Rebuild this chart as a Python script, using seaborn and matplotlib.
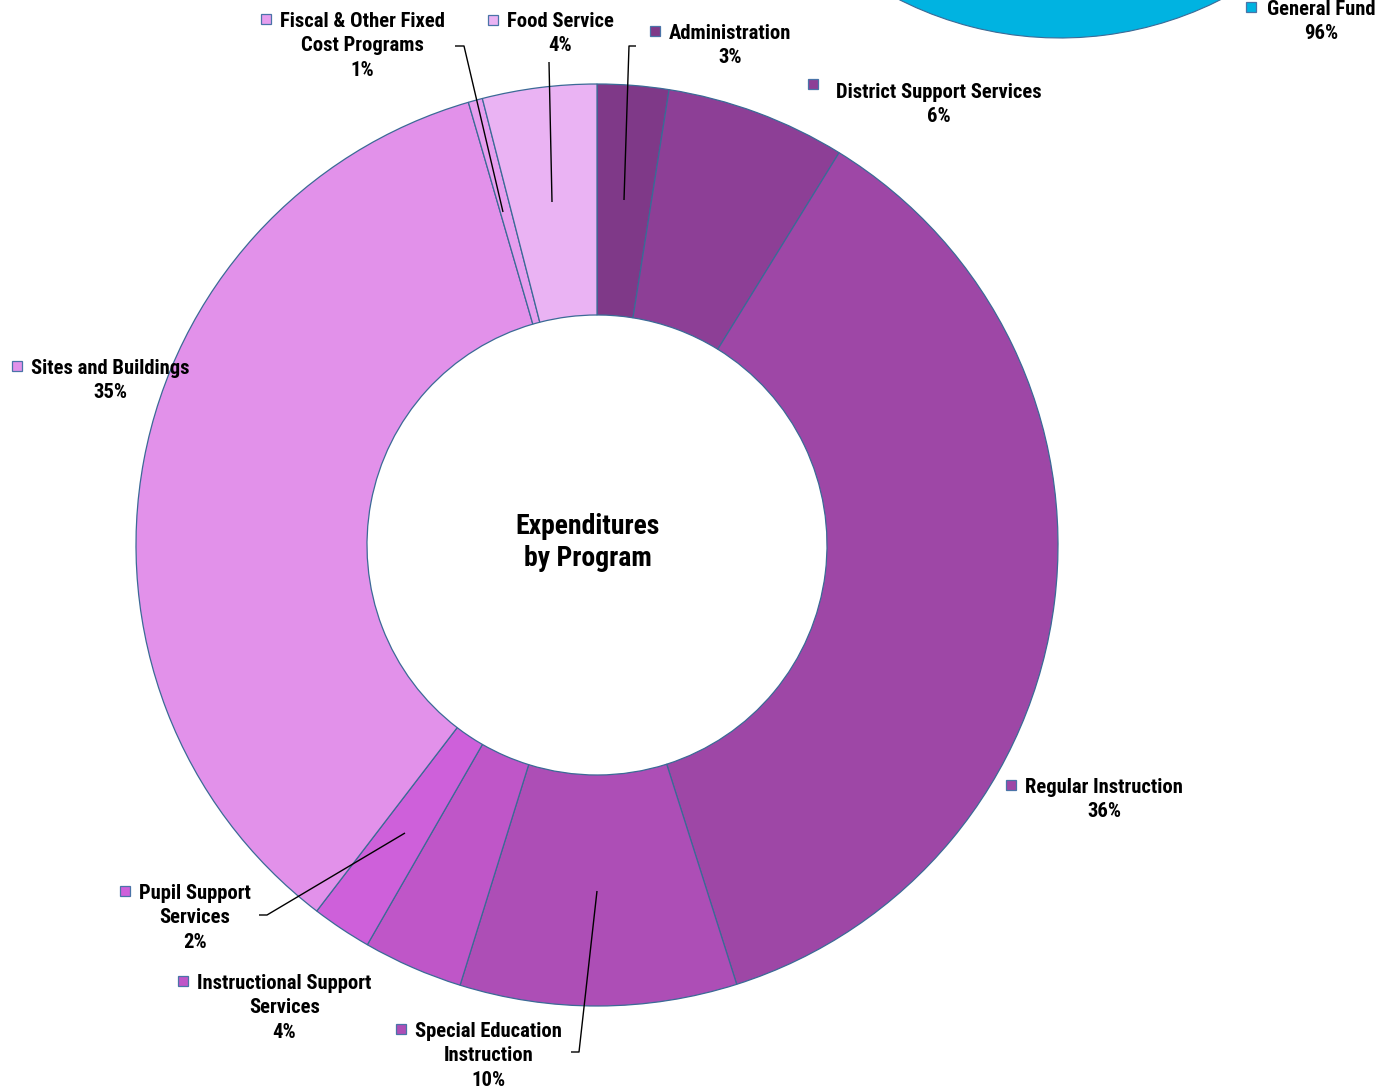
import math
import matplotlib
matplotlib.use("Agg")
import matplotlib.pyplot as plt
from matplotlib import font_manager as fm
from matplotlib.patches import Rectangle
import seaborn as sns

# ---- data -------------------------------------------------------------
programs = [
    "Administration",
    "District Support Services",
    "Regular Instruction",
    "Special Education Instruction",
    "Instructional Support Services",
    "Pupil Support Services",
    "Sites and Buildings",
    "Fiscal & Other Fixed Cost Programs",
    "Food Service",
]
program_share = [2.5, 6.3, 36.3, 9.7, 3.5, 2.1, 35.1, 0.5, 4.0]
program_colors = ["#7f3988", "#8d3f96", "#9e47a6", "#ad4eb6", "#bf56c8",
                  "#ce60da", "#e291ea", "#e69eee", "#eab3f3"]

funds = ["Other Funds", "General Fund"]
fund_share = [4.0, 96.0]
fund_colors = ["#1f6fb2", "#00b3e1"]

W, H = 1395, 1089


def pct(v):
    return f"{int(math.floor(v + 0.5))}%"


sns.set_theme(style="white")
names = {f.name for f in fm.fontManager.ttflist}
narrow = None
for cand in ["Liberation Sans Narrow", "Arial Narrow", "Roboto Condensed",
             "DejaVu Sans Condensed", "Open Sans Condensed", "Noto Sans Condensed"]:
    if cand in names:
        narrow = cand
        break
family = narrow or "Liberation Sans"
plt.rcParams["font.family"] = [family, "DejaVu Sans"]
fs = 14.9 if narrow else 12.4
title_fs = 20 if narrow else 17
step = 24.3

fig = plt.figure(figsize=(W / 100, H / 100), dpi=100)
ax = fig.add_axes([0, 0, 1, 1])
renderer = fig.canvas.get_renderer()

edge = "#3b6a96"

# fund pie (mostly above the top edge)
ax.pie(fund_share, colors=fund_colors, startangle=90 + 3.6 * fund_share[0],
       counterclock=False, center=(1060, H + 318), radius=356,
       wedgeprops=dict(edgecolor=edge, linewidth=0.8))

# program donut
ax.pie(program_share, colors=program_colors, startangle=90, counterclock=False,
       center=(597, H - 545), radius=461,
       wedgeprops=dict(width=231, edgecolor=edge, linewidth=0.9))

ax.set_xlim(0, W)
ax.set_ylim(0, H)
ax.set_aspect("auto")
ax.axis("off")


def label(sqx, sqy, base, lines, color, gap=14):
    """Legend key square, first line to its right, further lines centred below."""
    s = 10.5
    ax.add_patch(Rectangle((sqx - s / 2, H - sqy - s / 2), s, s,
                           facecolor=color, edgecolor="#4a74a8", linewidth=0.9))
    first = ax.text(sqx + gap, H - base, lines[0], ha="left", va="baseline",
                    fontsize=fs, fontweight="bold", color="black")
    bb = first.get_window_extent(renderer=renderer)
    xc = (bb.x0 + bb.x1) / 2
    for i, t in enumerate(lines[1:], start=1):
        ax.text(xc, H - (base + i * step), t, ha="center", va="baseline",
                fontsize=fs, fontweight="bold", color="black")


p = dict(zip(programs, program_share))
c = dict(zip(programs, program_colors))

label(266, 19, 27, ["Fiscal & Other Fixed", "Cost Programs",
                    pct(p["Fiscal & Other Fixed Cost Programs"])],
      c["Fiscal & Other Fixed Cost Programs"])
label(493, 20, 27, ["Food Service", pct(p["Food Service"])], c["Food Service"])
label(655, 31, 39, ["Administration", pct(p["Administration"])], c["Administration"])
label(813, 84, 98, ["District Support Services", pct(p["District Support Services"])],
      c["District Support Services"], gap=23)
label(1251, 7, 15, ["General Fund", pct(fund_share[1])], fund_colors[1], gap=16)
label(17, 366, 374, ["Sites and Buildings", pct(p["Sites and Buildings"])],
      c["Sites and Buildings"])
label(1011, 785, 793, ["Regular Instruction", pct(p["Regular Instruction"])],
      c["Regular Instruction"])
label(125, 891, 899, ["Pupil Support", "Services", pct(p["Pupil Support Services"])],
      c["Pupil Support Services"])
label(183, 981, 989, ["Instructional Support", "Services",
                      pct(p["Instructional Support Services"])],
      c["Instructional Support Services"])
label(401, 1029, 1037, ["Special Education", "Instruction",
                        pct(p["Special Education Instruction"])],
      c["Special Education Instruction"])

# leader lines
leaders = [
    [(455, 46), (464, 46), (503, 212)],
    [(549, 62), (552, 202)],
    [(636, 46), (629, 46), (624, 200)],
    [(597, 891), (579, 1052), (571, 1052)],
    [(405, 833), (267, 915), (259, 915)],
]
for pts in leaders:
    xs = [q[0] for q in pts]
    ys = [H - q[1] for q in pts]
    ax.plot(xs, ys, color="black", linewidth=1.0, solid_capstyle="butt")

# centre title
ax.text(588, H - 534, "Expenditures", ha="center", va="baseline",
        fontsize=title_fs, fontweight="bold", color="black")
ax.text(588, H - 566, "by Program", ha="center", va="baseline",
        fontsize=title_fs, fontweight="bold", color="black")

fig.savefig("out.png", dpi=100, facecolor="white")
